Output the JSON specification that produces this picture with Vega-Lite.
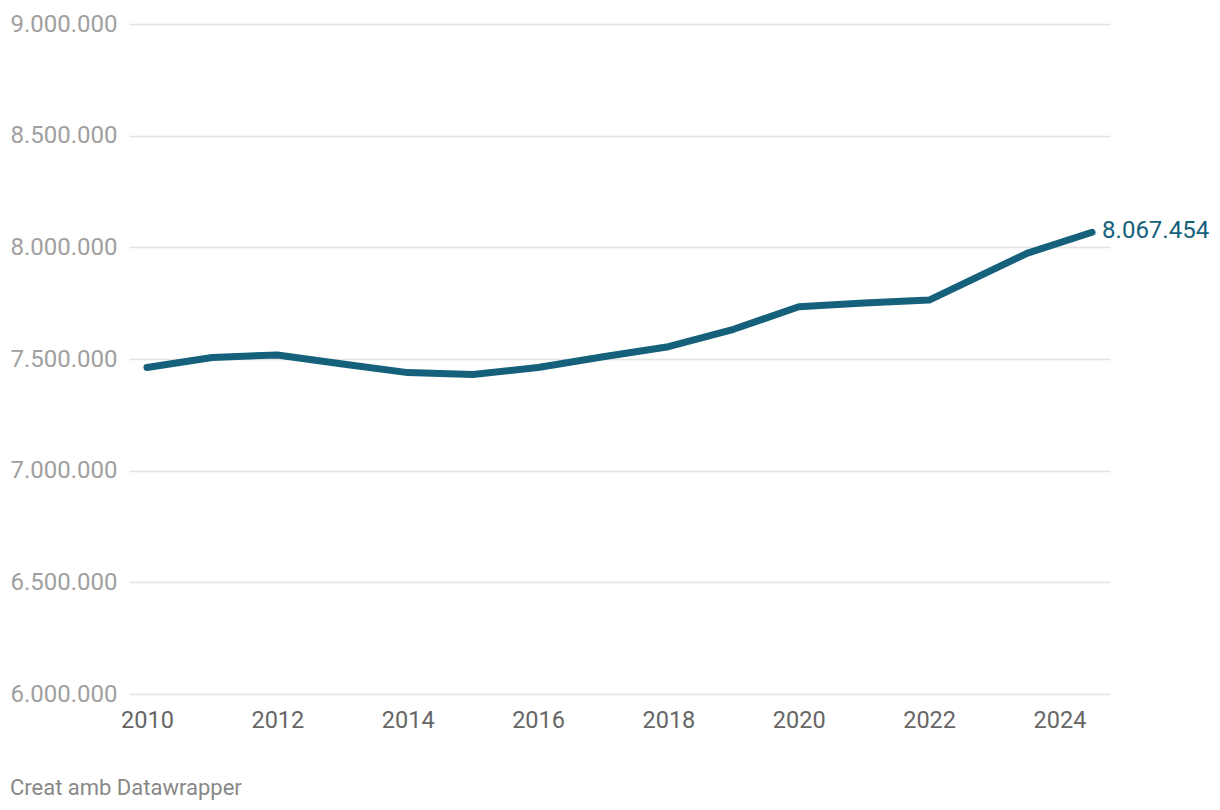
{
  "$schema": "https://vega.github.io/schema/vega-lite/v6.json",
  "width": 981,
  "height": 670,
  "autosize": {"type": "none"},
  "padding": {"left": 129, "top": 24, "right": 110, "bottom": 116},
  "background": "white",
  "config": {
    "locale": {"number": {"decimal": ",", "thousands": ".", "grouping": [3], "currency": ["", " €"]}},
    "view": {"stroke": null},
    "font": "Roboto"
  },
  "title": {
    "text": "Creat amb Datawrapper",
    "orient": "bottom",
    "anchor": "start",
    "frame": "bounds",
    "font": "Roboto",
    "fontSize": 22,
    "fontWeight": "normal",
    "color": "#888888",
    "offset": 46
  },
  "data": {
    "values": [
      {"year": 2010, "population": 7462000},
      {"year": 2011, "population": 7507000},
      {"year": 2012, "population": 7518000},
      {"year": 2013, "population": 7478000},
      {"year": 2014, "population": 7439000},
      {"year": 2015, "population": 7431000},
      {"year": 2016, "population": 7462000},
      {"year": 2017, "population": 7510000},
      {"year": 2018, "population": 7555000},
      {"year": 2019, "population": 7633000},
      {"year": 2020, "population": 7734000},
      {"year": 2021, "population": 7751000},
      {"year": 2022, "population": 7764000},
      {"year": 2023.5, "population": 7973000},
      {"year": 2024.5, "population": 8067454}
    ]
  },
  "layer": [
    {
      "mark": {"type": "line", "color": "#15607a", "strokeWidth": 7, "strokeCap": "round", "strokeJoin": "round"},
      "encoding": {
        "x": {
          "field": "year",
          "type": "quantitative",
          "scale": {"domain": [2009.724, 2024.775], "nice": false, "zero": false},
          "axis": {
            "values": [2010, 2012, 2014, 2016, 2018, 2020, 2022, 2024],
            "format": "d",
            "title": null,
            "grid": false,
            "domain": false,
            "ticks": false,
            "labelFont": "Roboto",
            "labelFontSize": 23.5,
            "labelColor": "#666666",
            "labelPadding": 14,
            "labelFlush": false
          }
        },
        "y": {
          "field": "population",
          "type": "quantitative",
          "scale": {"domain": [6000000, 9000000], "nice": false, "zero": false},
          "axis": {
            "values": [6000000, 6500000, 7000000, 7500000, 8000000, 8500000, 9000000],
            "format": ",d",
            "title": null,
            "grid": true,
            "gridColor": "#e3e3e3",
            "gridWidth": 1.5,
            "domain": false,
            "ticks": false,
            "labelFont": "Roboto",
            "labelFontSize": 24,
            "labelColor": "#a0a0a0",
            "labelPadding": 12,
            "labelBaseline": "middle"
          }
        }
      }
    },
    {
      "transform": [{"filter": "datum.year == 2024.5"}],
      "mark": {"type": "text", "align": "left", "baseline": "middle", "dx": 10, "dy": -1, "font": "Roboto", "fontSize": 24, "color": "#15607a"},
      "encoding": {
        "x": {"field": "year", "type": "quantitative"},
        "y": {"field": "population", "type": "quantitative"},
        "text": {"field": "population", "type": "quantitative", "format": ",d"}
      }
    }
  ]
}
